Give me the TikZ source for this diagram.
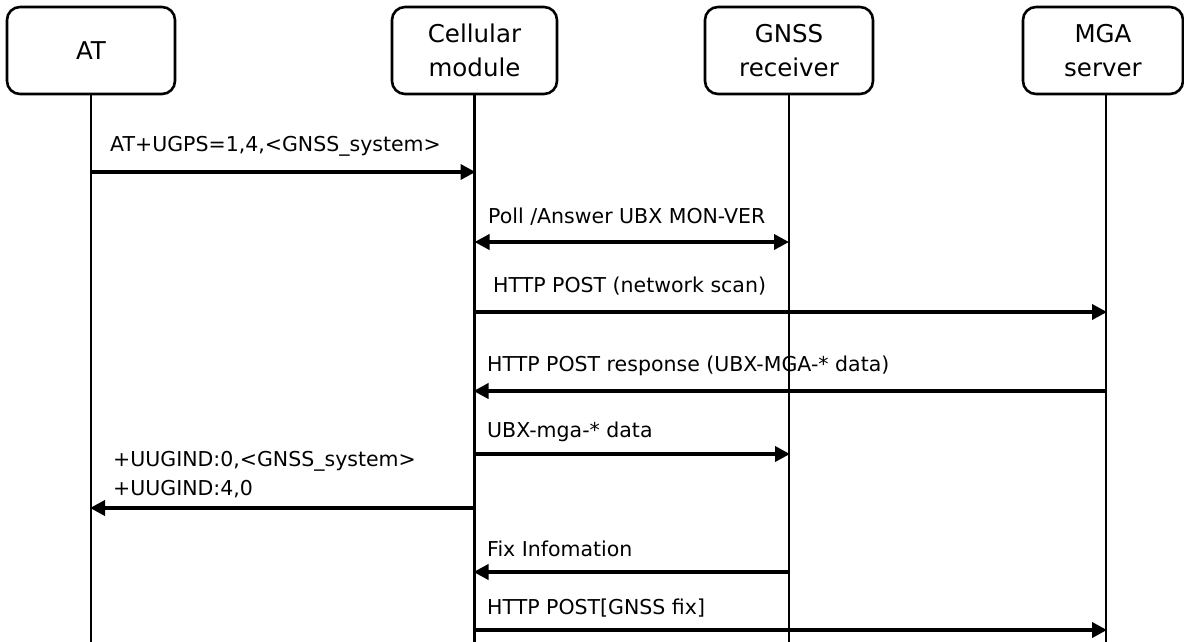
\documentclass[tikz,border=0pt]{standalone}
\usepackage{fontspec}
\setmainfont{DejaVu Sans}
\usetikzlibrary{arrows.meta}
\begin{document}
\begin{tikzpicture}[x=1pt,y=-1pt,
  actor/.style={draw,line width=2.6pt,rounded corners=13pt,minimum height=87pt,inner sep=0pt,align=center,font=\fontsize{24.5}{34}\selectfont},
  life/.style={line width=2.8pt},
  msg/.style={line width=3.6pt,-{Triangle[length=15pt,width=15pt]},shorten >=-1pt},
  bimsg/.style={line width=3.6pt,{Triangle[length=15pt,width=15pt]}-{Triangle[length=15pt,width=15pt]}},
  lbl/.style={anchor=west,inner sep=0pt,font=\fontsize{20.5}{29}\selectfont,align=left}]
\useasboundingbox (0,0) rectangle (1184,641);
% actors
\node[actor,minimum width=168pt] (at) at (91,50.5) {AT};
\node[actor,minimum width=165pt] (cell) at (474.5,50.5) {Cellular\\module};
\node[actor,minimum width=168pt] (gnss) at (789,50.5) {GNSS\\receiver};
\node[actor,minimum width=160pt] (mga) at (1103,50.5) {MGA\\server};
% lifelines
\coordinate (mgab) at (1106,94);
\draw[life] (at.south) -- (at.south |- 0,650);
\draw[life] (cell.south) -- (cell.south |- 0,650);
\draw[life] (gnss.south) -- (gnss.south |- 0,650);
\draw[life] (mgab) -- (mgab |- 0,650);
% messages
\draw[msg] (at.south |- 0,172) -- (cell.south |- 0,172);
\node[lbl] (l1) at (110,146) {AT+UGPS=1,4,<GNSS\_system>};
\draw[bimsg] (cell.south |- 0,242) -- (gnss.south |- 0,242);
\node[lbl] (l2) at (488,217) {Poll /Answer UBX MON-VER};
\draw[msg] (cell.south |- 0,312) -- (mgab |- 0,312);
\node[lbl] (l3) at (493,286) {HTTP POST (network scan)};
\draw[msg] (mgab |- 0,391) -- (cell.south |- 0,391);
\node[lbl] (l4) at (487,366) {HTTP POST response (UBX-MGA-* data)};
\draw[msg] (cell.south |- 0,454) -- (gnss.south |- 0,454);
\node[lbl] (l5) at (487,432) {UBX-mga-* data};
\draw[msg] (cell.south |- 0,508) -- (at.south |- 0,508);
\node[lbl] (l6) at (113,475) {+UUGIND:0,<GNSS\_system>\\+UUGIND:4,0};
\draw[msg] (gnss.south |- 0,572) -- (cell.south |- 0,572);
\node[lbl] (l7) at (487,549) {Fix Infomation};
\draw[msg] (cell.south |- 0,630) -- (mgab |- 0,630);
\node[lbl] (l8) at (487,608) {HTTP POST[GNSS fix]};
\end{tikzpicture}
\end{document}
